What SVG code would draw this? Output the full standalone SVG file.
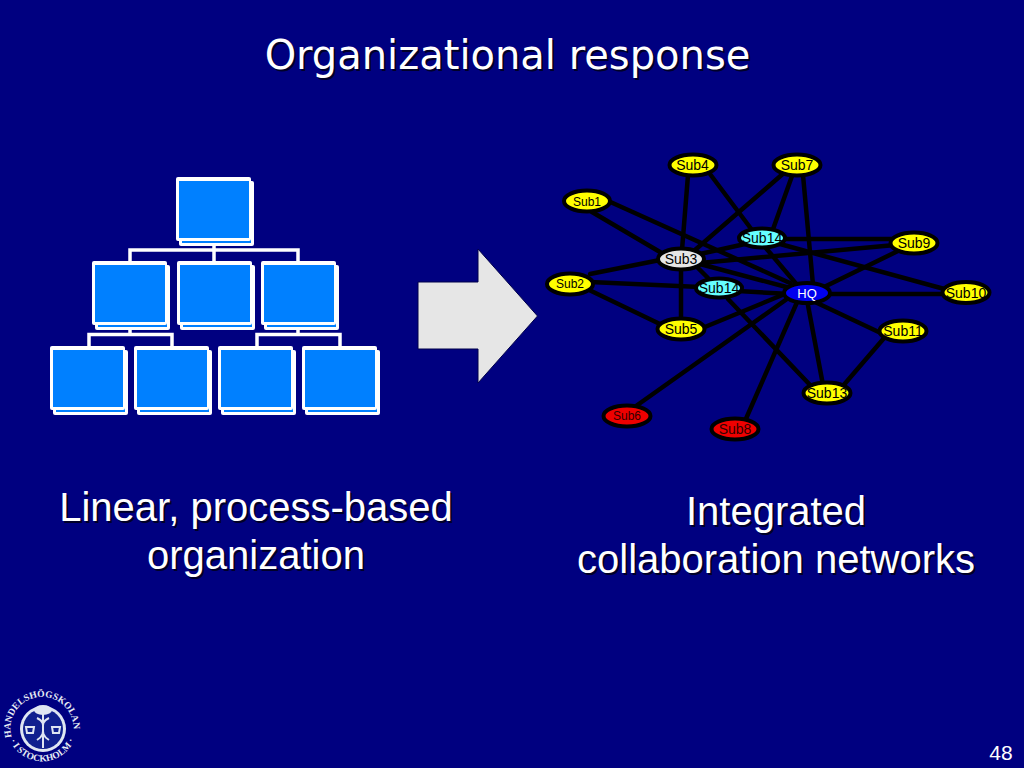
<svg xmlns="http://www.w3.org/2000/svg" xmlns:xlink="http://www.w3.org/1999/xlink" width="1024" height="768" viewBox="0 0 1024 768">
<style>
.bg{fill:#000080}
.t{font-family:"DejaVu Sans",sans-serif;fill:#fff;text-anchor:middle;font-size:40px}
.sh{fill:#000028}
.b{font-family:"Liberation Sans",sans-serif;text-anchor:middle;font-size:40px}
.wt{fill:#fff}
.w{fill:#fff}
.f{fill:#0080ff}
.ln{stroke:#fff;stroke-width:3.500;fill:none}
.e{stroke:#000;stroke-width:4.500;fill:none;stroke-linecap:round}
.n{stroke:#000;stroke-width:4}
.nt{font-family:"Liberation Sans",sans-serif;font-size:14px;text-anchor:middle;fill:#000}
.s{font-size:12px}
.y{fill:#ffff00}.c{fill:#66ffff}.g{fill:#e6e6e6}.r{fill:#ee0000}.h{fill:#0000ee}
.rt{fill:#330000}
.lg{stroke:#dfe6f2;fill:none}
.lt{font-family:"Liberation Serif",serif;font-size:9.500px;fill:#e8edf5;font-weight:bold}
</style>
<defs>
<g id="box">
<rect class="w" x="3" y="4" width="75" height="65" rx="2"/>
<rect class="f" x="6" y="7" width="69" height="59"/>
<rect class="w" width="75" height="64" rx="2"/>
<rect class="f" x="3" y="4" width="70" height="57"/>
</g>
<path id="arcTop" d="M 12 738 A 31.500 31.500 0 1 1 72 738"/>
<path id="arcBot" d="M 9 738 A 35 35 0 0 0 75 738"/>
</defs>
<rect class="bg" width="1024" height="768"/>

<g id="title">
<text class="t sh" x="509.500" y="71">Organizational response</text>
<text class="t" x="507.500" y="69">Organizational response</text>
</g>

<g id="hierarchy-lines">
<path class="ln" d="M214 241V261M130 261V250H298V261M130 325V334.500M89 346V334.500H172V346M298 325V334.500M257 346V334.500H340V346"/>
</g>
<g id="box-top"><use xlink:href="#box" x="176" y="177"/></g>
<g id="box-m1"><use xlink:href="#box" x="92" y="261"/></g>
<g id="box-m2"><use xlink:href="#box" x="177" y="261"/></g>
<g id="box-m3"><use xlink:href="#box" x="261" y="261"/></g>
<g id="box-b1"><use xlink:href="#box" x="50" y="346"/></g>
<g id="box-b2"><use xlink:href="#box" x="134" y="346"/></g>
<g id="box-b3"><use xlink:href="#box" x="218" y="346"/></g>
<g id="box-b4"><use xlink:href="#box" x="302" y="346"/></g>

<g id="arrow"><polygon points="418,282 478,282 478,249 537.500,316 478,383 478,349 418,349" fill="#e6e6e6" stroke="#00004a"/></g>

<g id="connectors" class="e">
<path d="M592 212L660 252M606 200L790 283"/>
<path d="M688 175L682 250M710 174L752 230"/>
<path d="M785 172L695 250M792 176L772 232M803 175L813 285"/>
<path d="M700 254L745 244M700 263L895 245M700 264L790 288"/>
<path d="M780 239L895 239M780 244L948 290M765 247L798 286"/>
<path d="M900 250L822 288M825 294H948"/>
<path d="M590 274L660 260M590 282L700 287M585 288L662 325"/>
<path d="M695 265L708 278M681 268V320"/>
<path d="M738 291L790 294M728 299L812 387"/>
<path d="M700 329L792 291M636 406L794 294M745 421L798 300M823 385L807 300M885 335L815 302M885 337L842 387"/>
</g>

<g id="n-sub4"><ellipse class="n y" cx="693" cy="165" rx="23.500" ry="10.500"/><text class="nt" x="692.500" y="170">Sub4</text></g>
<g id="n-sub7"><ellipse class="n y" cx="797" cy="165" rx="23.500" ry="10.500"/><text class="nt" x="797" y="170">Sub7</text></g>
<g id="n-sub1"><ellipse class="n y" cx="587" cy="201" rx="23" ry="10.500"/><text class="nt s" x="587" y="206">Sub1</text></g>
<g id="n-sub14a"><ellipse class="n c" cx="762" cy="238" rx="23" ry="9.500"/><text class="nt" x="762" y="243">Sub14</text></g>
<g id="n-sub9"><ellipse class="n y" cx="914" cy="243" rx="23.500" ry="10.500"/><text class="nt" x="914" y="248">Sub9</text></g>
<g id="n-sub3"><ellipse class="n g" cx="681" cy="259" rx="23" ry="10.500"/><text class="nt" x="681" y="264">Sub3</text></g>
<g id="n-sub2"><ellipse class="n y" cx="570" cy="284" rx="23" ry="10.500"/><text class="nt s" x="570" y="288">Sub2</text></g>
<g id="n-sub14b"><ellipse class="n c" cx="719" cy="288" rx="23" ry="9.500"/><text class="nt" x="719" y="293">Sub14</text></g>
<g id="n-hq"><ellipse class="n h" cx="807" cy="293" rx="23" ry="10"/><text class="nt wt" x="807" y="298" style="fill:#fff;font-size:13px">HQ</text></g>
<g id="n-sub10"><ellipse class="n y" cx="966" cy="292.500" rx="23.500" ry="10.500"/><text class="nt" x="966" y="298">Sub10</text></g>
<g id="n-sub5"><ellipse class="n y" cx="681" cy="329" rx="23.500" ry="10.500"/><text class="nt" x="681" y="334">Sub5</text></g>
<g id="n-sub11"><ellipse class="n y" cx="903" cy="331" rx="23.500" ry="10.500"/><text class="nt" x="903" y="336">Sub11</text></g>
<g id="n-sub13"><ellipse class="n y" cx="827" cy="393" rx="23.500" ry="10.500"/><text class="nt" x="827" y="398">Sub13</text></g>
<g id="n-sub6"><ellipse class="n r" cx="627" cy="416" rx="23.500" ry="10.500"/><text class="nt s rt" x="627" y="420">Sub6</text></g>
<g id="n-sub8"><ellipse class="n r" cx="735" cy="429" rx="23.500" ry="10.500"/><text class="nt rt" x="735" y="434">Sub8</text></g>

<g id="left-label">
<text class="b sh" x="258" y="523">Linear, process-based</text>
<text class="b sh" x="258" y="571">organization</text>
<text class="b wt" x="256" y="521">Linear, process-based</text>
<text class="b wt" x="256" y="569">organization</text>
</g>
<g id="right-label">
<text class="b sh" x="778" y="527">Integrated</text>
<text class="b sh" x="778" y="575">collaboration networks</text>
<text class="b wt" x="776" y="525">Integrated</text>
<text class="b wt" x="776" y="573">collaboration networks</text>
</g>

<g id="logo">
<circle cx="43" cy="729" r="23" fill="#dfe6f2"/>
<circle cx="43" cy="729" r="20" fill="#10208f"/>
<ellipse cx="43" cy="710" rx="9" ry="5" fill="#dfe6f2"/>
<path class="lg" stroke-width="2" d="M43 712V748M37 718C50 724 36 732 49 740M49 718C36 724 50 732 37 740"/>
<path class="lg" stroke-width="2" d="M26 727h8l-1 6h-6zM52 727h8l-1 6h-6z"/>
<text class="lt"><textPath xlink:href="#arcTop" startOffset="1">HANDELSHÖGSKOLAN</textPath></text>
<text class="lt"><textPath xlink:href="#arcBot" startOffset="3">· I STOCKHOLM ·</textPath></text>
</g>
<g id="page"><text x="1001" y="760" font-family="Liberation Sans, sans-serif" font-size="21" fill="#fff" text-anchor="middle">48</text></g>
</svg>
